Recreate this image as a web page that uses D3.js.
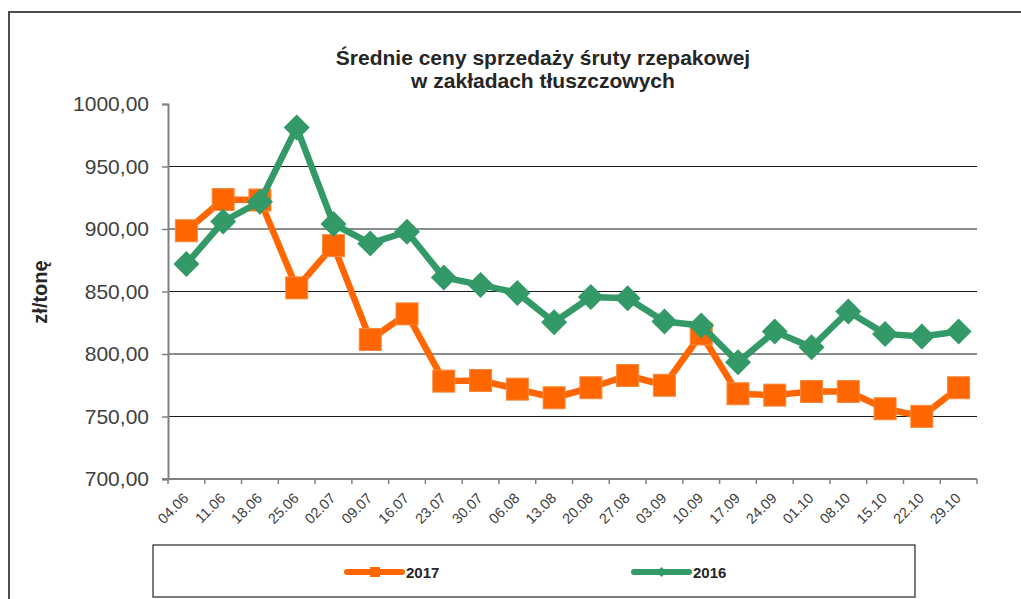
<!DOCTYPE html>
<html>
<head>
<meta charset="utf-8">
<script src="https://cdn.jsdelivr.net/npm/d3@7"></script>
<style>
  body { margin: 0; background: #fff; }
  svg { display: block; font-family: "Liberation Sans", Arial, sans-serif; }
</style>
</head>
<body>
<svg id="chart" width="1021" height="599"></svg>
<script>
// Średnie ceny sprzedaży śruty rzepakowej - 2017 vs 2016

const categories = ['04.06', '11.06', '18.06', '25.06', '02.07', '09.07', '16.07', '23.07', '30.07', '06.08', '13.08',
  '20.08', '27.08', '03.09', '10.09', '17.09', '24.09', '01.10', '08.10', '15.10', '22.10', '29.10'];

const values2017 = [898.6, 923.6, 923.2, 852.9, 886.7, 811.6, 832.1, 778.3, 778.8, 771.9, 765.0,
  773.0, 782.8, 775.0, 816.0, 768.2, 767.1, 770.0, 770.0, 756.2, 750.1, 773.0];

const values2016 = [872.0, 906.0, 921.8, 981.2, 904.0, 888.5, 897.8, 861.3, 855.3, 848.9, 825.4,
  845.6, 844.6, 826.0, 822.8, 793.4, 818.0, 805.4, 834.0, 816.1, 814.0, 818.0];

const yTicks = [700, 750, 800, 850, 900, 950, 1000];

const orange = '#ff6600';
const green = '#339966';

const svg = d3.select('#chart');

// Outer frame (top and left edges only visible)
svg.append('path')
  .attr('d', 'M9,599 L9,12 L1021,12')
  .attr('fill', 'none')
  .attr('stroke', '#4d4d4d')
  .attr('stroke-width', 2);

// Title
const title = svg.append('text')
  .attr('text-anchor', 'middle')
  .attr('font-weight', 'bold')
  .attr('font-size', 21)
  .attr('fill', '#262626');
title.append('tspan').attr('x', 543).attr('y', 65).text('Średnie ceny sprzedaży śruty rzepakowej');
title.append('tspan').attr('x', 543).attr('y', 88).text('w zakładach tłuszczowych');

// Scales
const x = d3.scaleBand()
  .domain(categories)
  .range([168, 977])
  .padding(0);

const y = d3.scaleLinear()
  .domain([700, 1000])
  .range([479, 104]);

const cx = d => x(d) + x.bandwidth() / 2;

// Gridlines
svg.append('g')
  .selectAll('line')
  .data(yTicks.filter(t => t > 700 && t < 1000))
  .enter().append('line')
  .attr('x1', 168)
  .attr('x2', 977)
  .attr('y1', d => y(d))
  .attr('y2', d => y(d))
  .attr('stroke', '#1a1a1a')
  .attr('stroke-width', 1);

// Y axis
const yAxis = svg.append('g')
  .attr('transform', 'translate(168,0)')
  .call(d3.axisLeft(y).tickValues(yTicks).tickSize(6).tickPadding(13)
    .tickFormat(d => d3.format('.2f')(d).replace('.', ',')));
yAxis.select('.domain').attr('stroke', '#808080').attr('stroke-width', 2);
yAxis.selectAll('.tick line').attr('stroke', '#808080').attr('stroke-width', 1.5);
yAxis.selectAll('.tick text')
  .attr('font-size', 21)
  .attr('fill', '#404040')
  .attr('font-family', '"Liberation Sans", Arial, sans-serif');

// X axis: line, boundary ticks, rotated labels
const xg = svg.append('g');
xg.append('line')
  .attr('x1', 162).attr('x2', 977)
  .attr('y1', 479).attr('y2', 479)
  .attr('stroke', '#808080')
  .attr('stroke-width', 2);

const bounds = categories.map(c => x(c)).concat([x(categories[categories.length - 1]) + x.bandwidth()]);
xg.selectAll('line.tick')
  .data(bounds)
  .enter().append('line')
  .attr('class', 'tick')
  .attr('x1', d => d).attr('x2', d => d)
  .attr('y1', 479).attr('y2', 484)
  .attr('stroke', '#808080')
  .attr('stroke-width', 1.5);

xg.selectAll('text')
  .data(categories)
  .enter().append('text')
  .attr('transform', d => `translate(${cx(d) + 3},${499}) rotate(-45)`)
  .attr('text-anchor', 'end')
  .attr('font-size', 14.5)
  .attr('fill', '#404040')
  .text(d => d);

// Y axis title
svg.append('text')
  .attr('transform', 'translate(47,292) rotate(-90)')
  .attr('text-anchor', 'middle')
  .attr('font-weight', 'bold')
  .attr('font-size', 20)
  .attr('fill', '#262626')
  .text('zł/tonę');

// Series lines
const line = d3.line()
  .x((d, i) => cx(categories[i]))
  .y(d => y(d));

// 2017 - orange squares
svg.append('path')
  .datum(values2017)
  .attr('d', line)
  .attr('fill', 'none')
  .attr('stroke', orange)
  .attr('stroke-width', 6.5)
  .attr('stroke-linejoin', 'round');

svg.append('g')
  .selectAll('rect')
  .data(values2017)
  .enter().append('rect')
  .attr('x', (d, i) => cx(categories[i]) - 11)
  .attr('y', d => y(d) - 11)
  .attr('width', 22)
  .attr('height', 22)
  .attr('fill', orange)
  .attr('stroke', '#f58a3c')
  .attr('stroke-width', 1);

// 2016 - green diamonds
svg.append('path')
  .datum(values2016)
  .attr('d', line)
  .attr('fill', 'none')
  .attr('stroke', green)
  .attr('stroke-width', 6.5)
  .attr('stroke-linejoin', 'round');

svg.append('g')
  .selectAll('path')
  .data(values2016)
  .enter().append('path')
  .attr('transform', (d, i) => `translate(${cx(categories[i])},${y(d)})`)
  .attr('d', 'M0,-13 L13,0 L0,13 L-13,0 Z')
  .attr('fill', green);

// Legend
svg.append('rect')
  .attr('x', 153).attr('y', 545)
  .attr('width', 762).attr('height', 52)
  .attr('fill', '#fff')
  .attr('stroke', '#262626')
  .attr('stroke-width', 1.2);

const legendItems = [
  { label: '2017', color: orange, x: 347, marker: 'square' },
  { label: '2016', color: green, x: 634, marker: 'diamond' }
];

const li = svg.append('g')
  .selectAll('g')
  .data(legendItems)
  .enter().append('g')
  .attr('transform', d => `translate(${d.x},572)`);

li.append('line')
  .attr('x1', 0).attr('x2', 55)
  .attr('stroke', d => d.color)
  .attr('stroke-width', 6)
  .attr('stroke-linecap', 'round');

li.filter(d => d.marker === 'square').append('rect')
  .attr('x', 23).attr('y', -5)
  .attr('width', 10).attr('height', 10)
  .attr('fill', d => d.color);

li.filter(d => d.marker === 'diamond').append('path')
  .attr('d', 'M27.5,-5 L32.5,0 L27.5,5 L22.5,0 Z')
  .attr('fill', d => d.color);

li.append('text')
  .attr('x', 59)
  .attr('y', 6)
  .attr('font-weight', 'bold')
  .attr('font-size', 15)
  .attr('fill', '#262626')
  .text(d => d.label);
</script>
</body>
</html>
